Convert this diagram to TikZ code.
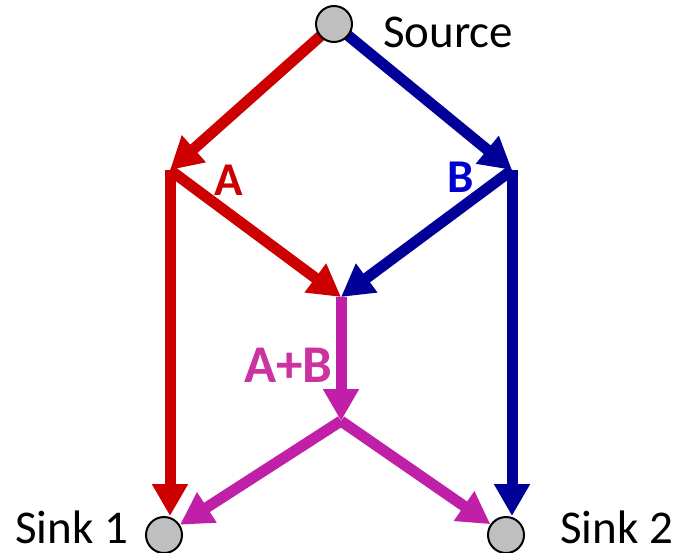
\documentclass[tikz,border=0pt]{standalone}
\usepackage{fontspec}
\setmainfont{Carlito}
\usetikzlibrary{arrows.meta}
\definecolor{cred}{RGB}{204,0,0}
\definecolor{cblue}{RGB}{0,0,153}
\definecolor{cmag}{RGB}{192,32,168}
\definecolor{lblue}{RGB}{0,0,204}
\definecolor{lmag}{RGB}{204,51,160}
\definecolor{cgray}{RGB}{191,191,191}
\pgfdeclarelayer{bg}
\pgfsetlayers{bg,main}
\begin{document}
\begin{tikzpicture}[x=1pt,y=-1pt,
  flow/.style={line width=11pt, -{Triangle[length=32pt,width=34pt]}},
  vertex/.style={circle, draw=black, line width=2pt, fill=cgray, minimum size=36pt, inner sep=0pt},
  lbl/.style={font=\fontsize{47}{47}\selectfont, inner sep=0pt},
  blbl/.style={font=\fontsize{47}{47}\selectfont\bfseries, inner sep=0pt}]
\useasboundingbox (0,0) rectangle (676,552);
\node[vertex] (src) at (334,24) {};
\node[vertex] (snkA) at (164,535) {};
\node[vertex] (snkB) at (506,535) {};
\coordinate (L) at (170,170);
\coordinate (R) at (512,170);
\coordinate (M) at (341,297);
\coordinate (Y) at (341,421);
\begin{pgfonlayer}{bg}
\draw[flow, cred] (src.center) -- (L);
\draw[flow, cblue] (src.center) -- (R);
\draw[flow, cred] (L) -- (M);
\draw[flow, cblue] (R) -- (M);
\draw[flow, cmag] (M) -- (Y);
\draw[flow, cmag] (Y) -- (snkA);
\draw[flow, cmag] (Y) -- (snkB);
\draw[flow, cred] (L) -- (L |- snkA.north);
\draw[flow, cblue] (R) -- (R |- snkB.north);
\end{pgfonlayer}
\node[lbl, anchor=base west] (tsrc) at (383,47) {Source};
\node[lbl, anchor=base west] (tsA) at (15,543) {Sink 1};
\node[lbl, anchor=base west] (tsB) at (560,543) {Sink 2};
\node[blbl, text=cred, anchor=base west] (tA) at (214,195) {A};
\node[blbl, text=lblue, anchor=base west] (tB) at (447,192) {B};
\node[blbl, text=lmag, anchor=base west, font=\fontsize{53}{53}\selectfont\bfseries] (tAB) at (244,382) {A+B};
\end{tikzpicture}
\end{document}
